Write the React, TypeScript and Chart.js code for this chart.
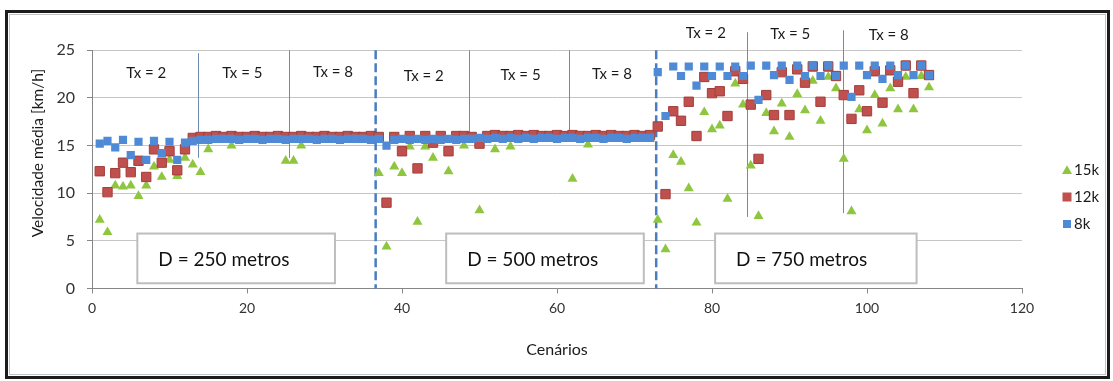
import React, { useEffect, useRef } from 'react';
import { Chart, registerables } from 'chart.js';

Chart.register(...registerables);

// ---- data ----
const scenarios = [
  1, 2, 3, 4, 5, 6, 7, 8, 9, 10, 11, 12, 13, 14, 15, 16, 17, 18, 19, 20, 21, 22, 23, 24, 25, 26, 27, 28, 29, 30, 31, 32, 33, 34, 35, 36,
  37, 38, 39, 40, 41, 42, 43, 44, 45, 46, 47, 48, 49, 50, 51, 52, 53, 54, 55, 56, 57, 58, 59, 60, 61, 62, 63, 64, 65, 66, 67, 68, 69, 70, 71, 72,
  73, 74, 75, 76, 77, 78, 79, 80, 81, 82, 83, 84, 85, 86, 87, 88, 89, 90, 91, 92, 93, 94, 95, 96, 97, 98, 99, 100, 101, 102, 103, 104, 105, 106, 107, 108,
];

const speed15k = [
  7.2, 5.9, 10.8, 10.7, 10.8, 9.7, 10.8, 12.8, 11.7, 13.5, 11.8, 13.7, 13.0, 12.2, 14.6,
  15.6, 15.6, 15.0, 15.6, 15.6, 15.6, 15.6, 15.6, 15.6, 13.4, 13.4, 15.0, 15.6, 15.6, 15.6, 15.6, 15.6, 15.6, 15.6, 15.6, 15.6,
  12.1, 4.4, 12.8, 12.1, 14.9, 7.0, 14.9, 13.7, 15.7, 12.3, 15.7, 15.0, 15.7, 8.2, 15.7, 14.6, 15.7, 14.9,
  15.7, 15.7, 15.7, 15.7, 15.7, 15.7, 15.7, 11.5, 15.7, 15.1, 15.7, 15.7, 15.7, 15.7, 15.7, 15.7, 15.7, 15.7,
  7.2, 4.1, 14.0, 13.3, 10.5, 6.9, 18.5, 16.7, 17.1, 9.4, 21.5, 19.3, 12.9, 7.6, 18.4, 16.5, 19.4, 15.9,
  20.4, 18.7, 21.8, 17.6, 22.2, 21.0, 13.6, 8.1, 18.8, 16.6, 20.3, 17.3, 21.0, 18.8, 22.2, 18.8, 22.3, 21.1,
];

const speed12k = [
  12.3, 10.1, 12.1, 13.2, 12.2, 13.4, 11.7, 14.6, 13.2, 14.4, 12.4, 14.6,
  15.8, 15.9, 15.9, 16.0, 15.9, 16.0, 15.9, 15.9, 16.0, 15.9, 15.9, 16.0, 15.9, 15.9, 16.0, 15.9, 15.9, 16.0, 15.9, 15.9, 16.0, 15.9, 15.9, 16.0,
  15.9, 9.0, 15.9, 14.4, 16.0, 12.6, 16.0, 15.3, 16.0, 14.4, 16.0, 16.0, 15.9, 15.2,
  16.0, 16.1, 16.0, 16.0, 16.1, 16.0, 16.1, 16.0, 16.0, 16.1, 16.0, 16.1, 16.0, 16.0, 16.1, 16.0, 16.1, 16.0, 16.0, 16.1, 16.0, 16.1,
  17.0, 9.9, 18.6, 17.6, 19.6, 16.0, 22.2, 20.5, 20.7, 18.1, 22.8, 22.0, 19.3, 13.6, 20.3, 18.2, 22.7, 18.2,
  23.0, 21.6, 23.3, 19.6, 23.3, 22.3, 20.3, 17.8, 20.8, 18.6, 22.8, 19.5, 22.9, 21.7, 23.4, 20.5, 23.4, 22.4,
];

const speed8k = [
  15.2, 15.5, 14.8, 15.6, 14.0, 15.4, 13.5, 15.5, 14.2, 15.4, 13.5, 15.3, 15.5, 15.6,
  15.6, 15.7, 15.7, 15.7, 15.6, 15.7, 15.7, 15.6, 15.7, 15.7, 15.6, 15.7, 15.7, 15.7, 15.6, 15.7, 15.7, 15.6, 15.7, 15.7, 15.7, 15.6,
  15.7, 15.0,
  15.6, 15.7, 15.6, 15.7, 15.6, 15.7, 15.6, 15.7, 15.6, 15.7, 15.7, 15.8, 15.7, 15.8, 15.7, 15.8, 15.7,
  15.8, 15.7, 15.8, 15.8, 15.7, 15.8, 15.8, 15.7, 15.8, 15.8, 15.7, 15.8, 15.8, 15.7, 15.8, 15.8, 15.8,
  22.7, 18.1, 23.3, 22.3, 23.3, 21.3, 23.3, 22.3, 23.3, 22.3, 23.3, 22.3, 23.4, 19.8, 23.4, 22.4, 23.4, 21.9,
  23.4, 22.3, 23.4, 22.3, 23.4, 22.3, 23.4, 20.1, 23.4, 22.4, 23.4, 22.0, 23.4, 22.4, 23.4, 22.4, 23.4, 22.4,
];

const seriesLabels = ['15k', '12k', '8k'];
const xTickValues = [0, 20, 40, 60, 80, 100, 120];
const yTickValues = [0, 5, 10, 15, 20, 25];
const xTitle = 'Cenários';
const yTitle = 'Velocidade média [km/h]';

// ---- annotations (in data units) ----
const distanceDividers = [36.6, 72.8];
const txDividerX = [13.7, 25.4, 48.6, 61.5, 84.5, 96.9];
const txDividerTop = [24.7, 25.0, 25.0, 25.0, 26.9, 27.1];
const txDividerBottom = [13.7, 13.7, 15.9, 15.9, 7.5, 7.9];
const txLabelText = ['Tx = 2', 'Tx = 5', 'Tx = 8', 'Tx = 2', 'Tx = 5', 'Tx = 8', 'Tx = 2', 'Tx = 5', 'Tx = 8'];
const txLabelX = [7.0, 19.4, 31.1, 42.8, 55.3, 67.1, 79.2, 90.1, 102.8];
const txLabelY = [22.6, 22.6, 22.75, 22.3, 22.4, 22.5, 26.8, 26.7, 26.6];
const boxText = ['D = 250 metros', 'D = 500 metros', 'D = 750 metros'];
const boxFrom = [5.85, 45.7, 80.4];
const boxTo = [31.35, 71.2, 106.4];
const boxTop = 5.76;
const boxBottom = 0.54;

const GREEN = '#8fc63f';
const RED = '#c0504d';
const RED_BORDER = '#a33e3b';
const BLUE = '#4f8ad6';
const FONT = 'Lato, "Open Sans", sans-serif';

function drawTriangle(ctx: CanvasRenderingContext2D, cx: number, cy: number, r: number) {
  ctx.beginPath();
  ctx.moveTo(cx, cy - r);
  ctx.lineTo(cx + Math.sin((2 * Math.PI) / 3) * r, cy + 0.5 * r);
  ctx.lineTo(cx - Math.sin((2 * Math.PI) / 3) * r, cy + 0.5 * r);
  ctx.closePath();
  ctx.fill();
}

const overlayPlugin = {
  id: 'overlay',
  beforeDatasetsDraw(chart: any) {
    const { ctx, scales } = chart;
    const x = scales.x;
    const y = scales.y;
    ctx.save();
    // Tx dividers
    ctx.strokeStyle = '#6d8db6';
    ctx.lineWidth = 1;
    txDividerX.forEach((v, i) => {
      const px = Math.round(x.getPixelForValue(v)) + 0.5;
      ctx.beginPath();
      ctx.moveTo(px, y.getPixelForValue(txDividerTop[i]));
      ctx.lineTo(px, y.getPixelForValue(txDividerBottom[i]));
      ctx.stroke();
    });
    // distance dividers (dashed)
    ctx.strokeStyle = '#4a7dbf';
    ctx.lineWidth = 2.5;
    ctx.setLineDash([9, 4]);
    distanceDividers.forEach((v) => {
      const px = x.getPixelForValue(v);
      ctx.beginPath();
      ctx.moveTo(px, y.getPixelForValue(25));
      ctx.lineTo(px, y.getPixelForValue(0));
      ctx.stroke();
    });
    ctx.setLineDash([]);
    // distance boxes
    boxText.forEach((t, i) => {
      const l = x.getPixelForValue(boxFrom[i]);
      const r = x.getPixelForValue(boxTo[i]);
      const tp = y.getPixelForValue(boxTop);
      const bt = y.getPixelForValue(boxBottom);
      ctx.fillStyle = '#ffffff';
      ctx.fillRect(l, tp, r - l, bt - tp);
      ctx.strokeStyle = '#bdbdbd';
      ctx.lineWidth = 2;
      ctx.strokeRect(l, tp, r - l, bt - tp);
      ctx.fillStyle = '#111111';
      ctx.font = `19px ${FONT}`;
      ctx.textAlign = 'left';
      ctx.textBaseline = 'middle';
      ctx.fillText(t, l + 21, (tp + bt) / 2 + 1);
    });
    // Tx labels
    ctx.fillStyle = '#1a1a1a';
    ctx.font = `15px ${FONT}`;
    ctx.textAlign = 'center';
    ctx.textBaseline = 'middle';
    txLabelText.forEach((t, i) => {
      ctx.fillText(t, x.getPixelForValue(txLabelX[i]), y.getPixelForValue(txLabelY[i]));
    });
    ctx.restore();
  },
  afterDraw(chart: any) {
    const { ctx } = chart;
    ctx.save();
    // y-axis title
    ctx.translate(38, 153);
    ctx.rotate(-Math.PI / 2);
    ctx.fillStyle = '#1a1a1a';
    ctx.font = `15.5px ${FONT}`;
    ctx.textAlign = 'center';
    ctx.textBaseline = 'middle';
    ctx.fillText(yTitle, 0, 0);
    ctx.restore();

    // legend
    ctx.save();
    const lx = 1067;
    const ly = [170, 197, 224];
    ctx.fillStyle = GREEN;
    drawTriangle(ctx, lx, ly[0] + 1, 5.8);
    ctx.fillStyle = RED;
    ctx.fillRect(lx - 4.5, ly[1] - 4.5, 9, 9);
    ctx.fillStyle = BLUE;
    ctx.fillRect(lx - 4, ly[2] - 4, 8, 8);
    ctx.fillStyle = '#1a1a1a';
    ctx.font = `15px ${FONT}`;
    ctx.textAlign = 'left';
    ctx.textBaseline = 'middle';
    seriesLabels.forEach((s, i) => ctx.fillText(s, lx + 7, ly[i]));
    ctx.restore();
  },
};

export default function App() {
  const canvasRef = useRef<HTMLCanvasElement | null>(null);

  useEffect(() => {
    if (!canvasRef.current) return;
    const toPoints = (vals: number[]) => scenarios.map((s, i) => ({ x: s, y: vals[i] }));
    const chart = new Chart(canvasRef.current, {
      type: 'scatter',
      data: {
        datasets: [
          {
            label: seriesLabels[0],
            data: toPoints(speed15k),
            pointStyle: 'triangle',
            pointRadius: 5.8,
            backgroundColor: GREEN,
            borderWidth: 0,
            order: 3,
          },
          {
            label: seriesLabels[1],
            data: toPoints(speed12k),
            pointStyle: 'rect',
            pointRadius: 6.6,
            backgroundColor: RED,
            borderColor: RED_BORDER,
            borderWidth: 1,
            order: 2,
          },
          {
            label: seriesLabels[2],
            data: toPoints(speed8k),
            pointStyle: 'rect',
            pointRadius: 5.8,
            backgroundColor: BLUE,
            borderWidth: 0,
            order: 1,
          },
        ],
      },
      options: {
        responsive: false,
        animation: false,
        events: [],
        layout: { padding: { left: 0, right: 91, top: 50.3, bottom: 0 } },
        plugins: {
          legend: { display: false },
          tooltip: { enabled: false },
        },
        scales: {
          x: {
            type: 'linear',
            min: 0,
            max: 120,
            afterBuildTicks: (scale: any) => {
              scale.ticks = xTickValues.map((v) => ({ value: v }));
            },
            afterFit: (scale: any) => {
              scale.height = 92.6;
            },
            ticks: {
              color: '#333333',
              font: { family: FONT, size: 14 },
              padding: 7,
              maxRotation: 0,
            },
            grid: {
              drawOnChartArea: false,
              drawTicks: true,
              tickLength: 5,
              color: '#868686',
            },
            border: { color: '#868686', width: 1 },
            title: {
              display: true,
              text: xTitle,
              color: '#1a1a1a',
              font: { family: FONT, size: 16 },
              padding: { top: 0, bottom: 22 },
            },
          },
          y: {
            type: 'linear',
            min: 0,
            max: 25,
            afterBuildTicks: (scale: any) => {
              scale.ticks = yTickValues.map((v) => ({ value: v }));
            },
            afterFit: (scale: any) => {
              scale.width = 92;
            },
            ticks: {
              color: '#333333',
              font: { family: FONT, size: 16 },
              padding: 12,
            },
            grid: {
              color: '#c6c6c6',
              tickColor: '#868686',
              drawTicks: true,
              tickLength: 5,
            },
            border: { color: '#868686', width: 1 },
          },
        },
      },
      plugins: [overlayPlugin],
    });
    return () => chart.destroy();
  }, []);

  return (
    <div style={{ position: 'fixed', left: 0, top: 0, width: 1113, height: 381, background: '#ffffff', overflow: 'hidden' }}>
      <div
        style={{
          position: 'absolute',
          left: 5,
          top: 10,
          width: 1105,
          height: 369,
          border: '3px solid #1c1c1c',
          boxSizing: 'border-box',
        }}
      />
      <div
        style={{
          position: 'absolute',
          left: 9,
          top: 14,
          width: 1097,
          height: 361,
          border: '1px solid #c4c4c4',
          boxSizing: 'border-box',
        }}
      />
      <canvas ref={canvasRef} width={1113} height={381} style={{ position: 'absolute', left: 0, top: 0, display: 'block' }} />
    </div>
  );
}
